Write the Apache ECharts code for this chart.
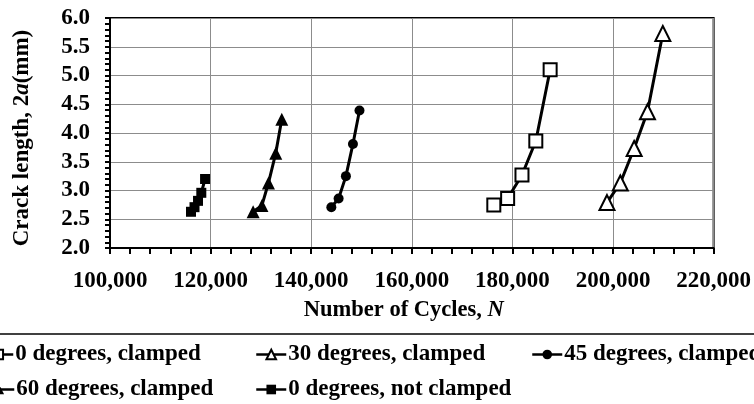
<!DOCTYPE html>
<html>
<head>
<meta charset="utf-8">
<script src="https://cdn.jsdelivr.net/npm/echarts@6/dist/echarts.min.js"></script>
<style>html,body{margin:0;padding:0;background:#fff}#c{width:754px;height:404px}</style>
</head>
<body>
<div id="c"></div>
<script>
const seriesNames = ['0 degrees, clamped', '30 degrees, clamped', '45 degrees, clamped', '60 degrees, clamped', '0 degrees, not clamped'];
const cycles0c  = [176300, 179050, 181900, 184650, 187500];
const crack0c   = [2.75, 2.86, 3.27, 3.86, 5.10];
const cycles30c = [198800, 201450, 204200, 206850, 209900];
const crack30c  = [2.79, 3.13, 3.73, 4.37, 5.73];
const cycles45c = [144000, 145450, 146900, 148300, 149600];
const crack45c  = [2.71, 2.86, 3.25, 3.81, 4.39];
const cycles60c = [128450, 130200, 131500, 132950, 134150];
const crack60c  = [2.63, 2.74, 3.13, 3.65, 4.24];
const cycles0n  = [116100, 116800, 117500, 118150, 118900];
const crack0n   = [2.63, 2.71, 2.82, 2.96, 3.20];
const xTicks = [100000, 120000, 140000, 160000, 180000, 200000, 220000];
const yTicks = [2.0, 2.5, 3.0, 3.5, 4.0, 4.5, 5.0, 5.5, 6.0];

const pairs = (xs, ys) => xs.map((x, i) => [x, ys[i]]);
const FONT = '"Liberation Serif", "Times New Roman", serif';

const chart = echarts.init(document.getElementById('c'));
const mk = (name, xs, ys, symbol, size, fill) => ({
  name, type: 'line', data: pairs(xs, ys), symbol, symbolSize: size,
  showAllSymbol: true,
  lineStyle: { color: '#000', width: 3 },
  itemStyle: { color: fill, borderColor: '#000', borderWidth: fill === '#fff' ? 2 : 0 },
  z: 5
});
const legendPos = [[-18, 343], [255, 343], [531, 343], [-17, 378], [255, 378]];
const legends = seriesNames.map((n, i) => ({
  data: [n], left: legendPos[i][0], top: legendPos[i][1], padding: 0,
  itemWidth: 30, itemHeight: 12, selectedMode: false,
  lineStyle: { width: 2.5 },
  textStyle: { fontFamily: FONT, fontWeight: 'bold', fontSize: 23, color: '#000', padding: [0, 0, 0, -3] }
}));

chart.setOption({
  animation: false,
  backgroundColor: '#fff',
  grid: { left: 110, right: 37, top: 18, bottom: 156, show: true, borderColor: '#000', borderWidth: 2, backgroundColor: 'transparent' },
  legend: legends,
  xAxis: {
    type: 'value', min: xTicks[0], max: xTicks[xTicks.length - 1], interval: 20000,
    name: 'Number of Cycles, {i|N}', nameLocation: 'middle', nameGap: 51,
    nameTextStyle: { fontFamily: FONT, fontWeight: 'bold', fontSize: 22.5, color: '#000', padding: [0, 16, 0, 0],
      rich: { i: { fontFamily: FONT, fontWeight: 'bold', fontStyle: 'italic', fontSize: 22.5, color: '#000' } } },
    axisLine: { lineStyle: { color: '#000', width: 2 } },
    axisTick: { show: true, inside: false, length: 6, lineStyle: { color: '#000', width: 2 } },
    minorTick: { show: true, splitNumber: 5, length: 6, lineStyle: { color: '#000', width: 2 } },
    axisLabel: { margin: 22, fontFamily: FONT, fontWeight: 'bold', fontSize: 23, color: '#000',
      formatter: v => v.toString().replace(/\B(?=(\d{3})+(?!\d))/g, ',') },
    splitLine: { show: true, lineStyle: { color: '#8c8c8c', width: 1 } }
  },
  yAxis: {
    type: 'value', min: yTicks[0], max: yTicks[yTicks.length - 1], interval: 0.5,
    name: 'Crack length, 2{i|a}(mm)', nameLocation: 'middle', nameGap: 76,
    nameTextStyle: { fontFamily: FONT, fontWeight: 'bold', fontSize: 23, color: '#000', padding: [0, 10, 0, 0],
      rich: { i: { fontFamily: FONT, fontWeight: 'bold', fontStyle: 'italic', fontSize: 23, color: '#000' } } },
    axisLine: { show: true, lineStyle: { color: '#000', width: 2 } },
    axisTick: { show: true, inside: false, length: 5, lineStyle: { color: '#000', width: 2 } },
    minorTick: { show: true, splitNumber: 5, length: 5, lineStyle: { color: '#000', width: 2 } },
    axisLabel: { margin: 20, fontFamily: FONT, fontWeight: 'bold', fontSize: 23, color: '#000',
      showMinLabel: true, showMaxLabel: true, formatter: v => v.toFixed(1) },
    splitLine: { show: true, lineStyle: { color: '#8c8c8c', width: 1 } }
  },
  graphic: [{ type: 'line', shape: { x1: 0, y1: 334, x2: 754, y2: 334 }, style: { stroke: '#000', lineWidth: 1.5 } }],
  series: [
    mk(seriesNames[0], cycles0c, crack0c, 'rect', 13, '#fff'),
    mk(seriesNames[1], cycles30c, crack30c, 'triangle', 15, '#fff'),
    mk(seriesNames[2], cycles45c, crack45c, 'circle', 10, '#000'),
    mk(seriesNames[3], cycles60c, crack60c, 'triangle', 13, '#000'),
    mk(seriesNames[4], cycles0n, crack0n, 'rect', 10, '#000')
  ]
});
</script>
</body>
</html>
